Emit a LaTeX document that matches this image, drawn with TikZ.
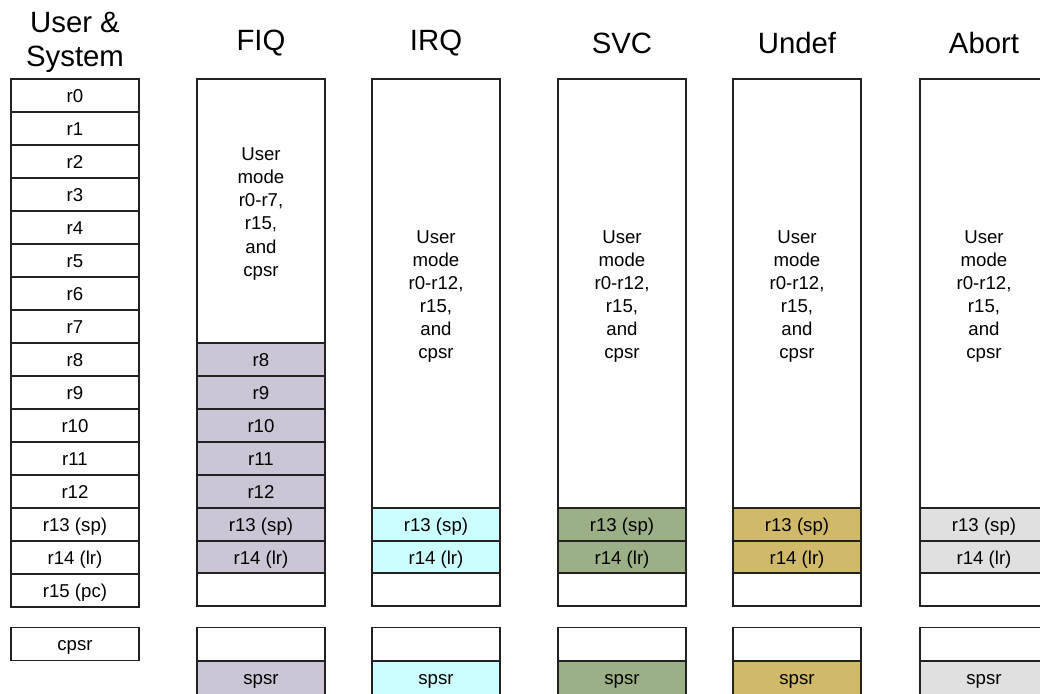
\documentclass[tikz,border=0pt]{standalone}
\usepackage{fontspec}
\setmainfont{Liberation Sans}
\definecolor{fiqc}{HTML}{CCC5D6}
\definecolor{irqc}{HTML}{CCFFFF}
\definecolor{svcc}{HTML}{9CB087}
\definecolor{undc}{HTML}{D0BA69}
\definecolor{abtc}{HTML}{E0E0E0}
\definecolor{edge}{HTML}{222222}
\tikzset{
  reg/.style={draw=edge, line width=1.1pt, fill=white, minimum width=2.56cm,
    minimum height=0.66cm, inner sep=0pt, text height=7.6pt, text depth=0pt,
    font=\fontsize{10.6}{13}\selectfont},
  block/.style={draw=edge, line width=1.1pt, fill=white, minimum width=2.56cm, inner sep=0pt},
  blocktext/.style={align=center, font=\fontsize{10.6}{13.1}\selectfont},
  title/.style={align=center, font=\fontsize{16.7}{19.3}\selectfont}
}
\begin{document}
\begin{tikzpicture}[x=0.02cm,y=-0.02cm]
\useasboundingbox (0,0) rectangle (1040,693);
\clip (0,0) rectangle (1040,693);
\node[title] (tusr) at (75,42) {User \&\\System};
\foreach \i/\t in {0/r0,1/r1,2/r2,3/r3,4/r4,5/r5,6/r6,7/r7,8/r8,9/r9,10/r10,11/r11,12/r12,13/r13 (sp),14/r14 (lr),15/r15 (pc)}
  \node[reg] (u\i) at (75,{95.5+33*\i}) {\t};
\node[reg] (ucpsr) at (75,644) {cpsr};
% FIQ
\node[title] (tfiq) at (261,43) {FIQ};
\node[block, minimum height=5.28cm] (fblk) at (261,211) {};
\node[blocktext] (ftxt) at (261,214) {User\\mode\\r0-r7,\\r15,\\and\\cpsr};
\foreach \i/\t in {8/r8,9/r9,10/r10,11/r11,12/r12,13/r13 (sp),14/r14 (lr)}
  \node[reg, fill=fiqc] (f\i) at (261,{95.5+33*\i}) {\t};
\node[reg] (f15) at (261,589.5) {};
\node[reg] (fcpsr) at (261,644) {};
\node[reg, fill=fiqc] (fspsr) at (261,678) {spsr};
% other modes
\foreach \m/\x/\c/\t in {i/436/irqc/IRQ, s/622/svcc/SVC, u/797/undc/Undef, a/984/abtc/Abort}{
  \node[title] (t\m) at (\x,43) {\t};
  \node[block, minimum height=8.58cm] (\m blk) at (\x,293.5) {};
  \node[blocktext] (\m txt) at (\x,296.5) {User\\mode\\r0-r12,\\r15,\\and\\cpsr};
  \node[reg, fill=\c] (\m13) at (\x,524.5) {r13 (sp)};
  \node[reg, fill=\c] (\m14) at (\x,557.5) {r14 (lr)};
  \node[reg] (\m15) at (\x,589.5) {};
  \node[reg] (\m cpsr) at (\x,644) {};
  \node[reg, fill=\c] (\m spsr) at (\x,678) {spsr};
}
\end{tikzpicture}
\end{document}
